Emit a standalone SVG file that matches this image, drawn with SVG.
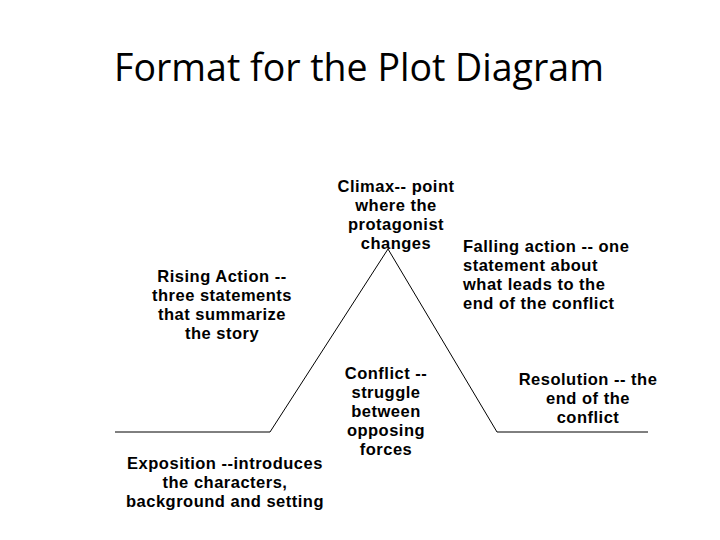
<svg xmlns="http://www.w3.org/2000/svg" width="720" height="540" viewBox="0 0 720 540">
<style>
.t{font-family:"Liberation Sans",Arial,sans-serif;font-weight:bold;font-size:16.5px;letter-spacing:0.5px;fill:#000;text-anchor:middle}
.l{text-anchor:start}
.ln{fill:none;stroke:#000;stroke-width:1}
</style>
<rect width="720" height="540" fill="#fff"/>
<text x="359" y="81" style="font-family:'Open Sans','Liberation Sans',sans-serif;font-size:37.5px;fill:#000" text-anchor="middle">Format for the Plot Diagram</text>
<g id="connectors">
<polyline class="ln" points="115,432 270,432 388,249 497,432 648,432"/>
</g>
<g id="climax"><text class="t" x="396" y="192">Climax-- point</text><text class="t" x="396" y="211">where the</text><text class="t" x="396" y="230">protagonist</text><text class="t" x="396" y="249">changes</text></g>
<g id="falling"><text class="t l" x="463" y="252">Falling action -- one</text><text class="t l" x="463" y="271">statement about</text><text class="t l" x="463" y="290">what leads to the</text><text class="t l" x="463" y="309">end of the conflict</text></g>
<g id="rising"><text class="t" x="222" y="282">Rising Action --</text><text class="t" x="222" y="301">three statements</text><text class="t" x="222" y="320">that summarize</text><text class="t" x="222" y="339">the story</text></g>
<g id="conflict"><text class="t" x="386" y="379">Conflict --</text><text class="t" x="386" y="398">struggle</text><text class="t" x="386" y="417">between</text><text class="t" x="386" y="436">opposing</text><text class="t" x="386" y="455">forces</text></g>
<g id="resolution"><text class="t" x="588" y="385">Resolution -- the</text><text class="t" x="588" y="404">end of the</text><text class="t" x="588" y="423">conflict</text></g>
<g id="exposition"><text class="t" x="225" y="469">Exposition --introduces</text><text class="t" x="225" y="488">the characters,</text><text class="t" x="225" y="507">background and setting</text></g>
</svg>
